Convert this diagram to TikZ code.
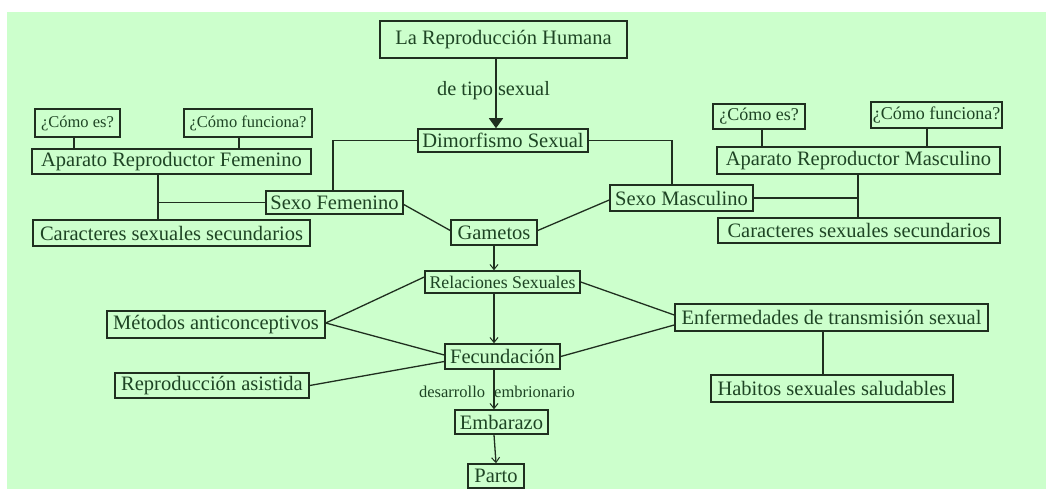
\documentclass[tikz,border=0pt]{standalone}
\usepackage{fontspec}
\setmainfont{Liberation Serif}
\usetikzlibrary{arrows.meta}
\definecolor{bggreen}{HTML}{CCFFCC}
\definecolor{ink}{HTML}{1E4424}
\definecolor{linec}{HTML}{1F2F1F}
\tikzset{
  box/.style={draw=linec, line width=1.5pt, text=ink, inner sep=0pt, font=\fontsize{20.5}{22}\selectfont},
  smallbox/.style={box, font=\fontsize{17}{19}\selectfont},
  conn/.style={draw=linec, line width=1.3pt},
  arr/.style={conn, -{Straight Barb[length=5pt,width=8pt,line width=1pt]}},
  lbl/.style={text=ink, inner sep=0pt}
}
\begin{document}
\begin{tikzpicture}[x=1pt, y=-1pt]
\useasboundingbox (0,0) rectangle (1046,489);
\fill[white] (0,0) rectangle (1046,489);
\fill[bggreen] (7,12) rectangle (1046,489);

% nodes
\node[box, minimum width=247pt, minimum height=37pt] (top) at (503.5,39.5) {La Reproducción Humana};
\node[box, minimum width=170pt, minimum height=23pt] (dim) at (503,140.5) {Dimorfismo Sexual};
\node[box, minimum width=137pt, minimum height=23pt] (sf) at (334.5,202.5) {Sexo Femenino};
\node[box, minimum width=143pt, minimum height=26pt] (sm) at (681.5,198) {Sexo Masculino};
\node[box, minimum width=279pt, minimum height=25pt] (arf) at (171.5,161.5) {Aparato Reproductor Femenino};
\node[smallbox, font=\fontsize{16.5}{18}\selectfont, minimum width=85pt, minimum height=28pt] (ces1) at (77.5,123) {¿Cómo es?};
\node[smallbox, font=\fontsize{16.5}{18}\selectfont, minimum width=128pt, minimum height=28pt] (cf1) at (248,123) {¿Cómo funciona?};
\node[box, minimum width=277pt, minimum height=26pt] (cs1) at (171.5,233) {Caracteres sexuales secundarios};
\node[smallbox, font=\fontsize{18}{20}\selectfont, minimum width=92pt, minimum height=25pt] (ces2) at (759,116.5) {¿Cómo es?};
\node[smallbox, font=\fontsize{18}{20}\selectfont, minimum width=131pt, minimum height=26pt] (cf2) at (936.5,115) {¿Cómo funciona?};
\node[box, minimum width=283pt, minimum height=27pt] (arm) at (858.5,160.5) {Aparato Reproductor Masculino};
\node[box, minimum width=282pt, minimum height=25pt] (cs2) at (859,230.5) {Caracteres sexuales secundarios};
\node[box, minimum width=86pt, minimum height=25pt] (gam) at (494,232.5) {Gametos};
\node[smallbox, font=\fontsize{17.8}{19}\selectfont, minimum width=155pt, minimum height=22pt] (rel) at (502.5,282) {Relaciones Sexuales};
\node[box, minimum width=218pt, minimum height=27pt] (met) at (216,324.5) {Métodos anticonceptivos};
\node[box, minimum width=115pt, minimum height=25pt] (fec) at (502.5,356.5) {Fecundación};
\node[box, minimum width=194pt, minimum height=25pt] (ra) at (212,385.5) {Reproducción asistida};
\node[box, minimum width=93pt, minimum height=24pt] (emb) at (501.5,422) {Embarazo};
\node[box, minimum width=56pt, minimum height=24pt] (par) at (496,476) {Parto};
\node[box, minimum width=313pt, minimum height=27pt] (ets) at (831.5,317.5) {Enfermedades de transmisión sexual};
\node[box, minimum width=242pt, minimum height=27pt] (hab) at (832,388.5) {Habitos sexuales saludables};

% labels
\node[lbl, font=\fontsize{20.3}{22}\selectfont] (l1) at (493.5,91) {de tipo sexual};
\node[lbl, font=\fontsize{16.5}{18}\selectfont] (l2) at (497,392) {desarrollo\hspace{5pt} embrionario};

% junctions
\coordinate (j1) at (158,202.5);
\coordinate (j2) at (858,198);

% connectors
\draw[conn, -{Triangle[length=10pt,width=14pt]}] ([xshift=-7.5pt]top.south) -- ([xshift=-7pt]dim.north);
\draw[conn] (dim.west) -| ([xshift=-1.5pt]sf.north);
\draw[conn] (dim.east) -| ([xshift=-9.5pt]sm.north);
\draw[conn] ([xshift=-3.5pt]ces1.south) -- ([xshift=-3.5pt]ces1.south |- arf.north);
\draw[conn] ([xshift=-9pt]cf1.south) -- ([xshift=-9pt]cf1.south |- arf.north);
\draw[conn] (arf.south -| j1) -- (cs1.north -| j1);
\draw[conn] (j1) -- (sf.west);
\draw[conn] ([xshift=3pt]ces2.south) -- ([xshift=3pt]ces2.south |- arm.north);
\draw[conn] ([xshift=-9.5pt]cf2.south) -- ([xshift=-9.5pt]cf2.south |- arm.north);
\draw[conn] (arm.south -| j2) -- (cs2.north -| j2);
\draw[conn] (sm.east) -- (j2);
\draw[conn] ([yshift=-2pt]sf.east) -- ([yshift=2pt]gam.west);
\draw[conn] ([yshift=-2pt]sm.west) -- ([yshift=2pt]gam.east);
\draw[arr] (gam.south) -- (gam.south |- rel.north);
\draw[arr] ([xshift=-8.5pt]rel.south) -- ([xshift=-8.5pt]rel.south |- fec.north);
\draw[arr] ([xshift=-8.5pt]fec.south) -- ([xshift=-8.5pt]fec.south |- emb.north);
\draw[arr] ([xshift=-7.5pt]emb.south) -- (par.north);
\draw[conn] ([yshift=1.5pt]met.east) -- ([yshift=5pt]rel.west);
\draw[conn] ([yshift=1.5pt]met.east) -- ([yshift=1.5pt]fec.west);
\draw[conn] (ra.east) -- ([yshift=-5pt]fec.west);
\draw[conn] (rel.east) -- ([yshift=2.5pt]ets.west);
\draw[conn] (fec.east) -- ([yshift=-7.5pt]ets.west);
\draw[conn] ([xshift=-8.5pt]ets.south) -- ([xshift=-8.5pt]ets.south |- hab.north);
\end{tikzpicture}
\end{document}
